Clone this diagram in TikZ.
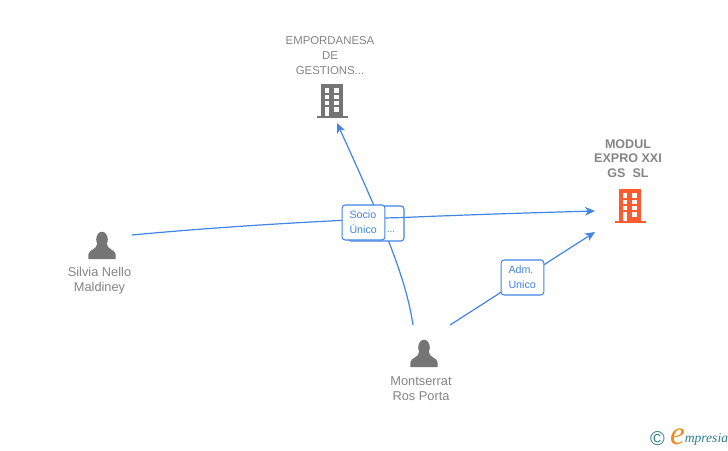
\documentclass[tikz,border=0pt]{standalone}
\usepackage{fontspec}
\setmainfont{Liberation Sans}
\newfontfamily\logofont{Liberation Serif}
\usetikzlibrary{arrows.meta}
\definecolor{linkblue}{HTML}{4285E4}
\definecolor{icongray}{HTML}{757575}
\definecolor{textgray}{HTML}{858585}
\definecolor{hotorange}{HTML}{FF5B2E}
\definecolor{logoteal}{HTML}{2F7F8F}
\definecolor{logoorange}{HTML}{F28A1E}
\tikzset{
  nametext/.style={text=textgray,font=\fontsize{8.55pt}{11.25pt}\selectfont,align=center,inner sep=0pt},
  persontext/.style={nametext,font=\fontsize{9.6pt}{11.25pt}\selectfont},
  boldtext/.style={nametext,font=\fontsize{9.4pt}{11pt}\selectfont\bfseries},
  roletext/.style={draw=linkblue,line width=0.8pt,rounded corners=2.2pt,fill=white,text=linkblue,
    font=\fontsize{8pt}{11.25pt}\selectfont,align=left,inner sep=0pt},
  link/.style={draw=linkblue,line width=0.9pt,-{Stealth[length=7.5pt,width=6.5pt,inset=2.2pt]}},
  plainlink/.style={draw=linkblue,line width=0.9pt}
}
\newcommand{\buildingicon}[3]{%
  \begin{scope}[shift={(#1,#2)}]
    \fill[#3] (321,84) rectangle (343.3,116);
    \fill[#3] (316.7,115.5) rectangle (348,118);
    \foreach \yy in {88.3,94.6,101}{
      \fill[white] (324.8,\yy) rectangle +(4.6,4.2);
      \fill[white] (334.4,\yy) rectangle +(4.6,4.2);
    }
    \fill[white] (324.8,107.3) rectangle (329.4,115.5);
    \fill[white] (334.4,107.3) rectangle (339,112.3);
  \end{scope}}
\newcommand{\personicon}[2]{%
  \begin{scope}[shift={(#1,#2)}]
    \fill[icongray] (0,0) ellipse (5.8 and 7.8);
    \fill[icongray] (-13.7,19.5) -- (-13.7,15) .. controls (-13,9.5) and (-5,10.5) .. (-4.8,4)
      -- (4.8,4) .. controls (5,10.5) and (13,9.5) .. (13.7,15) -- (13.7,19.5) -- cycle;
  \end{scope}}
\begin{document}
\begin{tikzpicture}[x=0.75pt,y=-0.75pt]
\useasboundingbox (0,0) rectangle (728,450);
\fill[white] (0,0) rectangle (728,450);

\buildingicon{0}{0}{icongray}
\buildingicon{298}{105}{hotorange}
\personicon{102}{239.5}
\personicon{424}{347.5}

\node[nametext] (emp) at (330,55.7) {EMPORDANESA\\DE\\GESTIONS...};
\node[boldtext] (modul) at (628,158.5) {MODUL\\EXPRO XXI\\GS\ \ SL};
\node[persontext] (silvia) at (99.5,280.5) {Silvia Nello\\Maldiney};
\node[persontext] (mont) at (421,388.5) {Montserrat\\Ros Porta};

\coordinate (silviaout) at (132,235);
\coordinate (montoutA) at (413,325);
\coordinate (montoutB) at (450,325);
\coordinate (empin) at (337,123);
\coordinate (modulinA) at (595,211);
\coordinate (modulinB) at (595,232);
\coordinate (backlineA) at (385,218);
\coordinate (backlineB) at (404,217.5);

\draw[link] (silviaout) .. controls (280,221) and (450,215) .. (modulinA);
\draw[link] (montoutA) .. controls (406,278) and (384,226) .. (empin);
\draw[link] (montoutB) -- (modulinB);

\node[roletext,minimum width=42pt,minimum height=26.25pt] (backrole) at (376,223.5) {};
\node[text=linkblue,font=\fontsize{7.5pt}{8pt}\selectfont,inner sep=0pt] (backdots) at (391,232) {...};
\draw[plainlink] (backlineA) -- (backlineB);
\node[roletext,text width=32pt,minimum height=26.25pt] (socio) at (363.5,222.5) {\hspace*{5.5pt}Socio\\\hspace*{5.5pt}Único};
\node[roletext,text width=32pt,minimum height=26.25pt] (adm) at (522.5,277.5) {\hspace*{5.5pt}Adm.\\\hspace*{5.5pt}Unico};

\node[text=logoteal,font=\fontsize{15pt}{15pt}\selectfont,inner sep=0pt] (copy) at (657.5,438.5) {©};
\node[anchor=base,text=logoorange,font=\logofont\itshape\fontsize{25pt}{25pt}\selectfont,inner sep=0pt] (loge) at (677.5,444) {e};
\node[anchor=base west,text=logoteal,font=\logofont\itshape\fontsize{10.2pt}{10pt}\selectfont,inner sep=0pt] (logt) at (684.5,442.5) {mpresia};
\end{tikzpicture}
\end{document}
